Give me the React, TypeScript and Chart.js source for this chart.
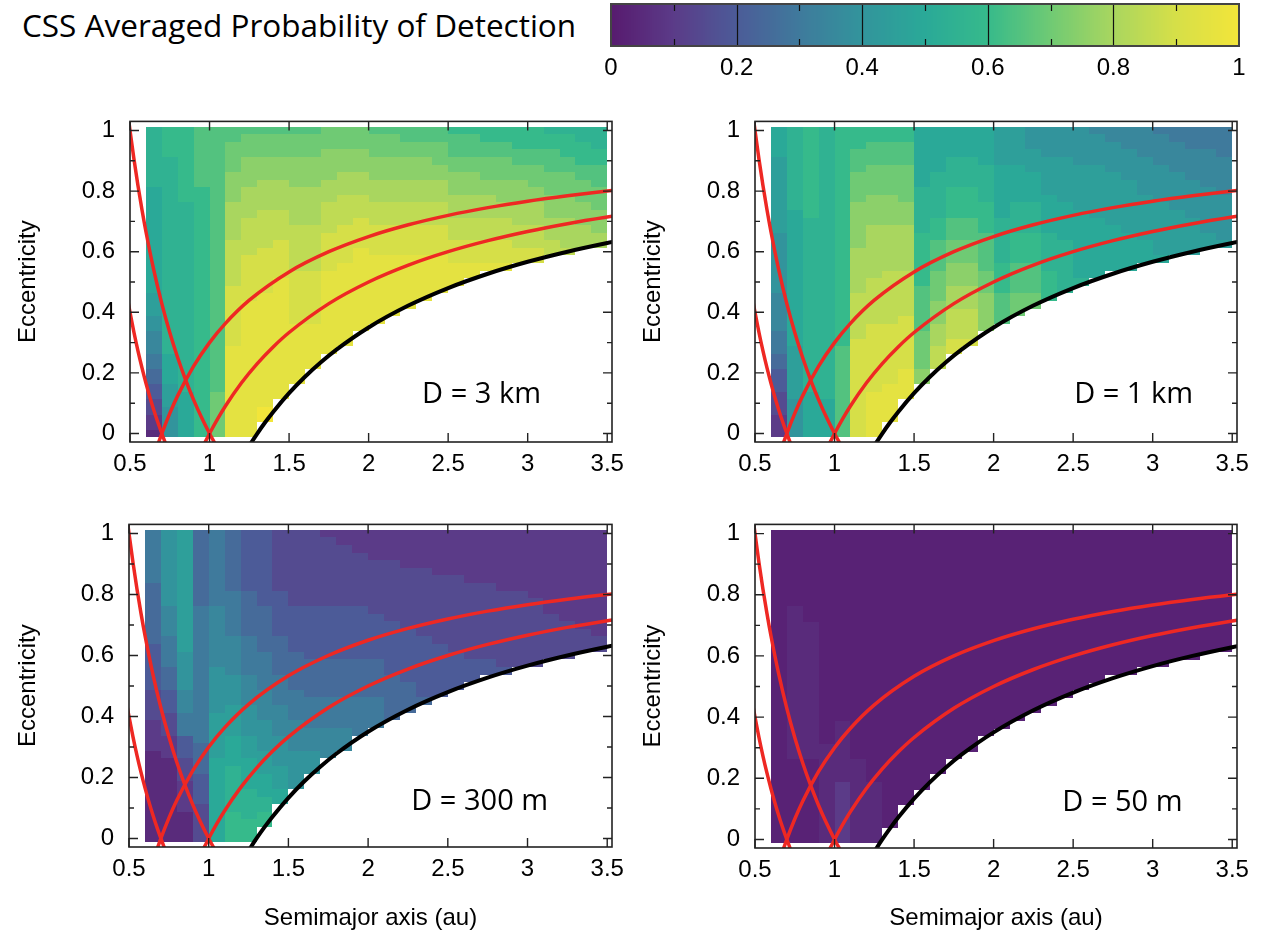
import React, { useEffect, useRef } from 'react';
import { Chart, registerables } from 'chart.js';

Chart.register(...registerables);

// ---------- categories / grid ----------
const A_CENTERS = [0.65, 0.75, 0.85, 0.95, 1.05, 1.15, 1.25, 1.35, 1.45, 1.55, 1.65, 1.75, 1.85, 1.95, 2.05, 2.15, 2.25, 2.35, 2.45, 2.55, 2.65, 2.75, 2.85, 2.95, 3.05, 3.15, 3.25, 3.35, 3.45];
const E_ROWS = [1, 0.975, 0.95, 0.925, 0.9, 0.875, 0.85, 0.825, 0.8, 0.775, 0.75, 0.725, 0.7, 0.675, 0.65, 0.625, 0.6, 0.575, 0.55, 0.525, 0.5, 0.475, 0.45, 0.425, 0.4, 0.375, 0.35, 0.325, 0.3, 0.275, 0.25, 0.225, 0.2, 0.175, 0.15, 0.125, 0.1, 0.075, 0.05, 0.025, 0];
// level letters: A=0, a=0.025, B=0.05 ... U=1 ; each column string is run-length coded from e=1 downward
const LEVEL_CODES = 'AaBbCcDdEeFfGgHhIiJjKkLlMmNnOoPpQqRrSsTtU';

const PROB_3KM = ['8L14K3J2I3H2G2F2E2D2C1B', '4M26L4K3J4I', '10M25L6K', '8N33M', '35N6O', '2N4O4P5Q6R8S12T', '1N3O4P4Q5R6S18T', '1N3O3P4Q5R6S15T2U', '1N3O3P4Q4R5S16T', '1N3O4P5Q6R7S8T', '1N3O4P5Q6R7S6T', '3O4P3Q4R5S11T', '3O3P3Q4R5S11T', '3O3P3Q3R4S11T', '1N3O3P3Q3R4S9T', '1N3O3P3Q3R4S8T', '2N2O3P3Q3R4S7T', '2N2O3P3Q3R4S6T', '2N3O2P3Q3R4S5T', '1M3N2O3P3Q3R3S3T', '1M3N2O3P3Q3R3S2T', '2M2N3O2P3Q3R3S1T', '2M2N3O3P2Q3R3S1T', '3M2N2O3P3Q3R2S', '3M2N3O2P3Q3R2S', '1L2M3N3O3P3Q2R', '1L3M2N3O3P4Q1R', '2L3M2N3O3P3Q', '3L2M3N3O3P2Q'];
const PROB_1KM = ['4K10J8I5H3G2F3E3D3C', '11L18K7J5I', '12M23L6K', '36L5K', '29M12N', '3M3N4O6P6Q6R13S', '2M3N4O4P7Q6R9S6T', '2M3N4O4P6Q7R8S5T', '2M3N5O3P6Q6R7S4T', '8K6L7M6N5O2P', '6K6L3M4N4O3P3Q3R', '4K4L4M3N3O3P3Q4R2S', '4K4L4M3N3O3P3Q4R1S', '5K5L4M5N3O5P', '5J7K6L4M4N', '5J5K4L4M4N3O', '3I3J4K4L4M4N2O', '4I5J5K5L4M', '4I6J5K7L', '5I6J9K1L', '1H4I7J8K', '2H4I7J6K', '3H4I7J5K', '4H5I6J3K', '1G4H5I7J1K', '2G4H5I6J', '3G4H5I5J', '3G5H6I2J', '4G5H6I1J'];
const PROB_300M = ['7G8F6E4D4C12B', '10I4H4G3F3E3D3C11B', '16J5I3H3G3E3D4C4B', '10F18G4F4E5D', '10G8H6I6J11K', '8F6G5H4I4J4K6L4M', '8E6F5G4H4I3J4K4L3M', '10E6F5G4H4I3J3K2L2M', '8D6E5F4G4H4I3J2K', '10D6E5F4G4H5I', '10D7E5F4G3H3I', '1C9D7E5F4G4H', '2C8D7E5F4G3H', '3C7D7E5F5G', '4C7D6E5F4G', '4C8D7E6F', '5C8D7E4F', '5C9D8E1F', '6C9D7E', '6C10D5E', '7C10D3E', '7C10D2E', '8C10D1E', '8C10D', '9C9D', '11C6D', '12C5D', '13C3D', '14C2D'];
const PROB_50M = ['41a', '10a20B11a', '12a18B11a', '28a13B', '25a8B8C', '30a11B', '33a8B', '39a', '36a', '34a', '32a', '30a', '29a', '27a', '26a', '25a', '24a', '23a', '22a', '21a', '20a', '19a', '19a', '18a', '18a', '17a', '17a', '16a', '16a'];

const PANEL_LABELS = ['D = 3 km', 'D = 1 km', 'D = 300 m', 'D = 50 m'];

// ---------- boundary curves (a, e) ----------
const CURVE_Q07_FALL_A = [0.49, 0.5, 0.525, 0.55, 0.575, 0.6, 0.625, 0.65, 0.675, 0.7, 0.725];
const CURVE_Q07_FALL_E = [0.4286, 0.4, 0.3333, 0.2727, 0.2174, 0.1667, 0.12, 0.0769, 0.037, 0, -0.0345];
const CURVE_Q10_FALL_A = [0.49, 0.5, 0.525, 0.55, 0.575, 0.6, 0.65, 0.7, 0.75, 0.8, 0.85, 0.9, 0.95, 1.0, 1.04];
const CURVE_Q10_FALL_E = [1.0408, 1.0, 0.9048, 0.8182, 0.7391, 0.6667, 0.5385, 0.4286, 0.3333, 0.25, 0.1765, 0.1111, 0.0526, 0, -0.0385];
const CURVE_Q07_RISE_A = [0.675, 0.7, 0.75, 0.8, 0.9, 1.0, 1.1, 1.25, 1.5, 1.75, 2.0, 2.25, 2.5, 2.75, 3.0, 3.25, 3.5, 3.6];
const CURVE_Q07_RISE_E = [-0.037, 0, 0.0667, 0.125, 0.2222, 0.3, 0.3636, 0.44, 0.5333, 0.6, 0.65, 0.6889, 0.72, 0.7455, 0.7667, 0.7846, 0.8, 0.8056];
const CURVE_Q10_RISE_A = [0.96, 1.0, 1.05, 1.1, 1.2, 1.3, 1.4, 1.5, 1.75, 2.0, 2.25, 2.5, 2.75, 3.0, 3.25, 3.5, 3.6];
const CURVE_Q10_RISE_E = [-0.0417, 0, 0.0476, 0.0909, 0.1667, 0.2308, 0.2857, 0.3333, 0.4286, 0.5, 0.5556, 0.6, 0.6364, 0.6667, 0.6923, 0.7143, 0.7222];
const CURVE_Q13_RISE_A = [1.25, 1.3, 1.35, 1.4, 1.5, 1.6, 1.7, 1.8, 2.0, 2.25, 2.5, 2.75, 3.0, 3.25, 3.5, 3.6];
const CURVE_Q13_RISE_E = [-0.04, 0, 0.037, 0.0714, 0.1333, 0.1875, 0.2353, 0.2778, 0.35, 0.4222, 0.48, 0.5273, 0.5667, 0.6, 0.6286, 0.6389];

// ---------- ticks ----------
const X_TICKS = [0.5, 1, 1.5, 2, 2.5, 3, 3.5];
const Y_TICKS = [0, 0.2, 0.4, 0.6, 0.8, 1];
const Y_MINOR = [0.1, 0.3, 0.5, 0.7, 0.9];
const CBAR_TICKS = [0, 0.2, 0.4, 0.6, 0.8, 1];
const CBAR_MINOR = [0.1, 0.3, 0.5, 0.7, 0.9];

// ---------- colour map ----------
const CMAP_POS = [0, 0.1, 0.2, 0.3, 0.4, 0.5, 0.6, 0.7, 0.8, 0.9, 1];
const CMAP_COL = ['#571a6e', '#5b3b88', '#4c5b98', '#3f7a9c', '#32949c', '#2aa998', '#36ba8b', '#6fca74', '#a9d65f', '#d6df48', '#f2e53a'];

// ---------- style / layout constants ----------
const X_MIN = 0.5, X_MAX = 3.53, Y_MIN = -0.028, Y_MAX = 1.03;
const CELL_HALF_A = 0.05, CELL_HALF_E = 0.0125;
const RED = '#ee2823';
const TICK_FONT = '"Liberation Sans", Arial, Helvetica, sans-serif';
const TEXT_FONT = '"Open Sans", "Noto Sans", sans-serif';
const TICK_SIZE = 24;
const TITLE_SIZE = 24;

function hexToRgb(h: string) {
  const n = parseInt(h.slice(1), 16);
  return [(n >> 16) & 255, (n >> 8) & 255, n & 255];
}
const CMAP_RGB = CMAP_COL.map(hexToRgb);
function colormap(v: number) {
  const t = Math.max(0, Math.min(1, v));
  let i = 0;
  while (i < CMAP_POS.length - 2 && t > CMAP_POS[i + 1]) i++;
  const f = (t - CMAP_POS[i]) / (CMAP_POS[i + 1] - CMAP_POS[i]);
  const c0 = CMAP_RGB[i], c1 = CMAP_RGB[i + 1];
  const c = c0.map((x, k) => Math.round(x + (c1[k] - x) * f));
  return `rgb(${c[0]},${c[1]},${c[2]})`;
}
function decode(s: string): number[] {
  const out: number[] = [];
  const re = /(\d+)([A-Za-z])/g;
  let m: RegExpExecArray | null;
  while ((m = re.exec(s))) {
    const n = parseInt(m[1], 10);
    const v = LEVEL_CODES.indexOf(m[2]) / 40;
    for (let i = 0; i < n; i++) out.push(v);
  }
  return out;
}

const CURVES = [
  { a: CURVE_Q07_FALL_A, e: CURVE_Q07_FALL_E, color: RED, width: 3.5 },
  { a: CURVE_Q10_FALL_A, e: CURVE_Q10_FALL_E, color: RED, width: 3.5 },
  { a: CURVE_Q07_RISE_A, e: CURVE_Q07_RISE_E, color: RED, width: 3.5 },
  { a: CURVE_Q10_RISE_A, e: CURVE_Q10_RISE_E, color: RED, width: 3.5 },
  { a: CURVE_Q13_RISE_A, e: CURVE_Q13_RISE_E, color: '#000000', width: 4 },
];

type PanelSpec = {
  cols: string[]; label: string; labelA: number; labelE: number;
  left: number; top: number; width: number; height: number;
  areaLeft: number; areaTop: number; areaRight: number; areaBottom: number;
  xTitle: boolean; yTitleX: number;
};

function Panel({ spec }: { spec: PanelSpec }) {
  const ref = useRef<HTMLCanvasElement>(null);
  useEffect(() => {
    const canvas = ref.current;
    if (!canvas) return;
    const cols = spec.cols.map(decode);
    const yAxisWidth = spec.areaLeft - spec.left;
    const xAxisHeight = spec.top + spec.height - spec.areaBottom;
    const titleLH = TITLE_SIZE * 1.2;

    const heatmap = {
      id: 'heatmap',
      beforeDatasetsDraw(chart: any) {
        const { ctx, chartArea, scales } = chart;
        const x = scales.x, y = scales.y;
        ctx.save();
        ctx.beginPath();
        ctx.rect(chartArea.left, chartArea.top, chartArea.right - chartArea.left, chartArea.bottom - chartArea.top);
        ctx.clip();
        cols.forEach((vals: number[], j: number) => {
          const a = A_CENTERS[j];
          const x0 = Math.round(x.getPixelForValue(a - CELL_HALF_A));
          const x1 = Math.round(x.getPixelForValue(a + CELL_HALF_A));
          vals.forEach((v, k) => {
            const e = E_ROWS[k];
            const y0 = Math.round(y.getPixelForValue(e + CELL_HALF_E));
            const y1 = Math.round(y.getPixelForValue(e - CELL_HALF_E));
            ctx.fillStyle = colormap(v);
            ctx.fillRect(x0, y0, x1 - x0, y1 - y0);
          });
        });
        ctx.restore();
      },
    };

    const frame = {
      id: 'frame',
      afterDraw(chart: any) {
        const { ctx, chartArea, scales } = chart;
        const x = scales.x, y = scales.y;
        const { left, right, top, bottom } = chartArea;
        ctx.save();
        ctx.strokeStyle = '#222';
        ctx.lineWidth = 1.4;
        ctx.beginPath();
        X_TICKS.forEach((v) => {
          const p = x.getPixelForValue(v);
          ctx.moveTo(p, bottom); ctx.lineTo(p, bottom - 9);
          ctx.moveTo(p, top); ctx.lineTo(p, top + 9);
        });
        Y_TICKS.forEach((v) => {
          const p = y.getPixelForValue(v);
          ctx.moveTo(left, p); ctx.lineTo(left + 9, p);
          ctx.moveTo(right, p); ctx.lineTo(right - 9, p);
        });
        Y_MINOR.forEach((v) => {
          const p = y.getPixelForValue(v);
          ctx.moveTo(left, p); ctx.lineTo(left + 5, p);
          ctx.moveTo(right, p); ctx.lineTo(right - 5, p);
        });
        ctx.stroke();
        ctx.lineWidth = 1.6;
        ctx.strokeRect(left, top, right - left, bottom - top);
        ctx.fillStyle = '#000';
        ctx.font = `29px ${TEXT_FONT}`;
        ctx.textAlign = 'center';
        ctx.textBaseline = 'middle';
        ctx.fillText(spec.label, x.getPixelForValue(spec.labelA), y.getPixelForValue(spec.labelE));
        ctx.restore();
      },
    };

    const chart = new Chart(canvas, {
      type: 'scatter',
      data: {
        datasets: CURVES.map((c) => ({
          data: c.a.map((a, i) => ({ x: a, y: c.e[i] })),
          showLine: true,
          borderColor: c.color,
          borderWidth: c.width,
          pointRadius: 0,
          cubicInterpolationMode: 'monotone',
          fill: false,
        })),
      },
      options: {
        responsive: false,
        animation: false,
        events: [],
        layout: {
          padding: { top: spec.areaTop - spec.top, right: spec.left + spec.width - spec.areaRight, left: 0, bottom: 0 },
        },
        scales: {
          x: {
            type: 'linear', min: X_MIN, max: X_MAX,
            grid: { display: false, drawTicks: false },
            border: { display: false },
            afterBuildTicks: (s: any) => { s.ticks = X_TICKS.map((v) => ({ value: v })); },
            ticks: { font: { family: TICK_FONT, size: TICK_SIZE }, color: '#000', padding: 8, maxRotation: 0, autoSkip: false, callback: (v: any) => String(v) },
            title: { display: spec.xTitle, text: 'Semimajor axis (au)', color: '#000', font: { family: TICK_FONT, size: TITLE_SIZE }, padding: { top: 0, bottom: 25 - titleLH / 2 } },
            afterFit: (s: any) => { s.height = xAxisHeight; },
          },
          y: {
            type: 'linear', min: Y_MIN, max: Y_MAX,
            grid: { display: false, drawTicks: false },
            border: { display: false },
            afterBuildTicks: (s: any) => { s.ticks = Y_TICKS.map((v) => ({ value: v })); },
            ticks: { font: { family: TICK_FONT, size: TICK_SIZE }, color: '#000', padding: 15, callback: (v: any) => String(v) },
            title: { display: true, text: 'Eccentricity', color: '#000', font: { family: TICK_FONT, size: TITLE_SIZE }, padding: { top: spec.yTitleX - titleLH / 2, bottom: 0 } },
            afterFit: (s: any) => { s.width = yAxisWidth; },
          },
        },
        plugins: { legend: { display: false }, tooltip: { enabled: false } },
      } as any,
      plugins: [heatmap, frame],
    });
    return () => chart.destroy();
  }, [spec]);
  return (
    <canvas
      ref={ref}
      width={spec.width}
      height={spec.height}
      style={{ position: 'absolute', left: spec.left, top: spec.top, width: spec.width, height: spec.height }}
    />
  );
}

function ColorBar() {
  const ref = useRef<HTMLCanvasElement>(null);
  const L = 590, T = 0, W = 681, H = 92;
  const areaL = 611, areaR = 1239, areaT = 4, areaB = 46;
  useEffect(() => {
    const canvas = ref.current;
    if (!canvas) return;
    const bar = {
      id: 'bar',
      beforeDatasetsDraw(chart: any) {
        const { ctx, chartArea, scales } = chart;
        const x = scales.x;
        const { left, right, top, bottom } = chartArea;
        ctx.save();
        const steps = 300;
        for (let i = 0; i < steps; i++) {
          const v0 = i / steps, v1 = (i + 1) / steps;
          const p0 = x.getPixelForValue(v0), p1 = x.getPixelForValue(v1);
          ctx.fillStyle = colormap((v0 + v1) / 2);
          ctx.fillRect(Math.floor(p0), top, Math.ceil(p1) - Math.floor(p0), bottom - top);
        }
        ctx.strokeStyle = '#111';
        ctx.lineWidth = 1.2;
        ctx.beginPath();
        CBAR_TICKS.slice(1, -1).forEach((v) => {
          const p = Math.round(x.getPixelForValue(v)) + 0.5;
          ctx.moveTo(p, top); ctx.lineTo(p, bottom);
        });
        CBAR_MINOR.forEach((v) => {
          const p = Math.round(x.getPixelForValue(v)) + 0.5;
          ctx.moveTo(p, top); ctx.lineTo(p, top + 7);
          ctx.moveTo(p, bottom); ctx.lineTo(p, bottom - 7);
        });
        ctx.stroke();
        ctx.strokeStyle = '#444';
        ctx.lineWidth = 2;
        ctx.strokeRect(left, top, right - left, bottom - top);
        ctx.restore();
      },
    };
    const chart = new Chart(canvas, {
      type: 'scatter',
      data: { datasets: [] },
      options: {
        responsive: false,
        animation: false,
        events: [],
        layout: { padding: { top: areaT - T, right: L + W - areaR, left: areaL - L, bottom: 0 } },
        scales: {
          x: {
            type: 'linear', min: 0, max: 1,
            grid: { display: false, drawTicks: false },
            border: { display: false },
            afterBuildTicks: (s: any) => { s.ticks = CBAR_TICKS.map((v) => ({ value: v })); },
            ticks: { font: { family: TICK_FONT, size: TICK_SIZE }, color: '#000', padding: 8, maxRotation: 0, autoSkip: false, callback: (v: any) => String(v) },
            afterFit: (s: any) => { s.height = T + H - areaB; },
          },
          y: { display: false, min: 0, max: 1 },
        },
        plugins: { legend: { display: false }, tooltip: { enabled: false } },
      } as any,
      plugins: [bar],
    });
    return () => chart.destroy();
  }, []);
  return <canvas ref={ref} width={W} height={H} style={{ position: 'absolute', left: L, top: T, width: W, height: H }} />;
}

const SPECS: PanelSpec[] = [
  { cols: PROB_3KM, label: PANEL_LABELS[0], labelA: 2.71, labelE: 0.127, left: 0, top: 92, width: 640, height: 400, areaLeft: 130, areaTop: 105, areaRight: 612, areaBottom: 442, xTitle: false, yTitleX: 28 },
  { cols: PROB_1KM, label: PANEL_LABELS[1], labelA: 2.88, labelE: 0.127, left: 635, top: 92, width: 636, height: 400, areaLeft: 755, areaTop: 105, areaRight: 1237, areaBottom: 442, xTitle: false, yTitleX: 18 },
  { cols: PROB_300M, label: PANEL_LABELS[2], labelA: 2.7, labelE: 0.119, left: 0, top: 495, width: 640, height: 448, areaLeft: 129, areaTop: 508, areaRight: 612, areaBottom: 847, xTitle: true, yTitleX: 28 },
  { cols: PROB_50M, label: PANEL_LABELS[3], labelA: 2.81, labelE: 0.119, left: 635, top: 495, width: 636, height: 448, areaLeft: 755, areaTop: 509, areaRight: 1237, areaBottom: 848, xTitle: true, yTitleX: 18 },
];

export default function App() {
  return (
    <div style={{ position: 'absolute', left: 0, top: 0, width: 1271, height: 943, background: '#fff', overflow: 'hidden' }}>
      <div style={{ position: 'absolute', left: 22, top: 4, fontFamily: TEXT_FONT, fontSize: 31.5, color: '#000', whiteSpace: 'nowrap', lineHeight: '42px' }}>
        CSS Averaged Probability of Detection
      </div>
      <ColorBar />
      {SPECS.map((s, i) => (
        <Panel key={i} spec={s} />
      ))}
    </div>
  );
}
